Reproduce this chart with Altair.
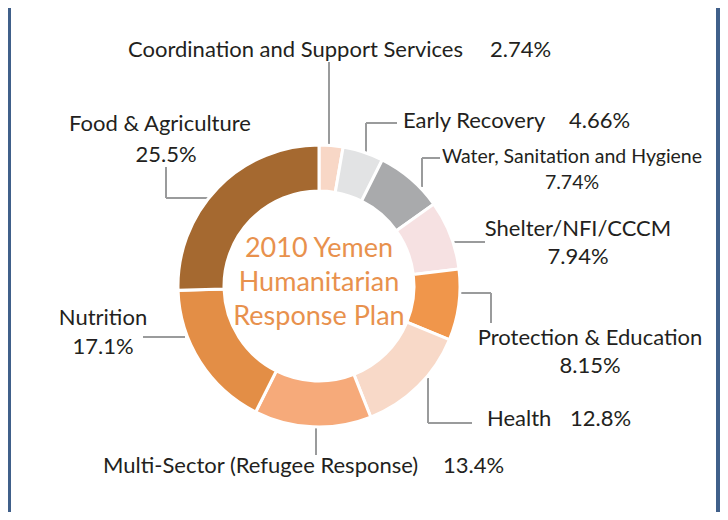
import altair as alt
import pandas as pd

# ---- data -------------------------------------------------------------
sectors = [
    "Coordination and Support Services",
    "Early Recovery",
    "Water, Sanitation and Hygiene",
    "Shelter/NFI/CCCM",
    "Protection & Education",
    "Health",
    "Multi-Sector (Refugee Response)",
    "Nutrition",
    "Food & Agriculture",
]
shares = [2.74, 4.66, 7.74, 7.94, 8.15, 12.8, 13.4, 17.1, 25.5]
share_labels = ["2.74%", "4.66%", "7.74%", "7.94%", "8.15%", "12.8%", "13.4%", "17.1%", "25.5%"]
colors = ["#f8d7c6", "#e2e3e4", "#a9aaac", "#f6e1e2", "#f0964b",
          "#f8d9c8", "#f6aa7a", "#e38e46", "#a56930"]

center_lines = ["2010 Yemen", "Humanitarian", "Response Plan"]

# label pieces (page coordinates of the reference picture)
label_text = [
    "Coordination and Support Services", "2.74%",
    "Early Recovery", "4.66%",
    "Water, Sanitation and Hygiene", "7.74%",
    "Shelter/NFI/CCCM", "7.94%",
    "Protection & Education", "8.15%",
    "Health", "12.8%",
    "Multi-Sector (Refugee Response)", "13.4%",
    "Nutrition", "17.1%",
    "Food & Agriculture", "25.5%",
]
label_x = [128, 490, 403, 569, 572, 572, 578, 578, 590, 590,
           487, 570, 103, 443, 103, 103, 160, 166]
label_y = [50, 50, 121, 121, 157, 183, 229, 257, 338, 366,
           419, 419, 466, 466, 318, 347, 124, 155]
label_align = ["left", "left", "left", "left", "center", "center", "center", "center",
               "center", "center", "left", "left", "left", "left",
               "center", "center", "center", "center"]
label_size = [22, 22, 22, 22, 19.5, 19.5, 22, 22, 22, 22,
              22, 22, 22, 22, 22, 22, 22, 22]

lead_x1 = [329, 366, 366, 422, 422, 452, 460, 491, 428, 428, 316, 143, 166, 166]
lead_y1 = [62, 123, 123, 158, 158, 242, 293, 293, 378, 423, 427, 337, 167, 198]
lead_x2 = [329, 397, 366, 440, 422, 485, 491, 491, 428, 472, 316, 185, 166, 208]
lead_y2 = [145, 123, 152, 158, 187, 242, 293, 323, 423, 423, 455, 337, 198, 198]

center_y = [249, 283, 317]

# ---- frames -------------------------------------------------------------
pie_df = pd.DataFrame({"sector": sectors, "share": shares, "idx": list(range(len(sectors)))})
lab_df = pd.DataFrame({"t": label_text, "x": label_x, "y": label_y,
                       "al": label_align, "fs": label_size})
lead_df = pd.DataFrame({"x1": lead_x1, "y1": lead_y1, "x2": lead_x2, "y2": lead_y2})
cen_df = pd.DataFrame({"t": center_lines, "x": [319] * 3, "y": center_y})

# plot area starts at page (11, 8)
xs = alt.Scale(domain=[11, 716], nice=False, zero=False)
ys = alt.Scale(domain=[8, 512], nice=False, zero=False, reverse=True)

FONT = "Lato"

donut = alt.Chart(pie_df).mark_arc(
    innerRadius=95, outerRadius=141, stroke="white", strokeWidth=3
).encode(
    theta=alt.Theta("share:Q", stack=True),
    order=alt.Order("idx:Q"),
    color=alt.Color("sector:N", scale=alt.Scale(domain=sectors, range=colors), legend=None),
    x=alt.value(319 - 11),
    y=alt.value(286 - 8),
)

leaders = alt.Chart(lead_df).mark_rule(color="#9a9b9c", strokeWidth=2).encode(
    x=alt.X("x1:Q", scale=xs, axis=None),
    y=alt.Y("y1:Q", scale=ys, axis=None),
    x2="x2:Q",
    y2="y2:Q",
)

def label_layer(align):
    return alt.Chart(lab_df).transform_filter(
        alt.datum.al == align
    ).mark_text(align=align, baseline="middle", font=FONT, color="#231f20").encode(
        x=alt.X("x:Q", scale=xs, axis=None),
        y=alt.Y("y:Q", scale=ys, axis=None),
        text="t:N",
        size=alt.Size("fs:Q", scale=None, legend=None),
    )

center = alt.Chart(cen_df).mark_text(
    align="center", baseline="middle", font=FONT, fontSize=27, color="#e8914d"
).encode(
    x=alt.X("x:Q", scale=xs, axis=None),
    y=alt.Y("y:Q", scale=ys, axis=None),
    text="t:N",
)

chart = alt.layer(leaders, donut, label_layer("left"), label_layer("center"), center).properties(
    width=705,
    height=504,
    padding={"left": 3, "top": 0, "right": 4, "bottom": 0},
    autosize="none",
    background="#40608a",
).configure_view(fill="white", strokeWidth=0)

chart.save("out.html", embed_options={"renderer": "svg", "actions": False})
